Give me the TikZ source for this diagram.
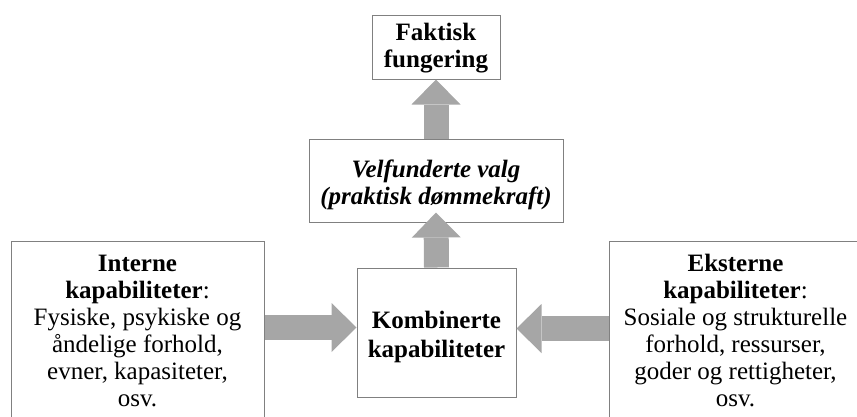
\documentclass[tikz,border=0pt]{standalone}
\usepackage{fontspec}
\setmainfont{Liberation Serif}
\usetikzlibrary{arrows.meta,calc}

\definecolor{arrowgray}{RGB}{166,166,166}
\definecolor{framegray}{RGB}{128,128,128}

\tikzset{
  box/.style={draw=framegray, line width=1pt, fill=white, inner sep=0pt},
  txt/.style={align=center, inner sep=0pt, font=\fontsize{25}{27}\selectfont},
  blockarrow/.style={draw=arrowgray, line width=25pt,
    -{Triangle[width=49pt, length=25pt, line width=0pt]}}
}

\begin{document}
\begin{tikzpicture}[x=1pt, y=-1pt]
\useasboundingbox (0,0) rectangle (857,416);

% frames
\node[box, minimum width=128pt, minimum height=64pt]  (fakt) at (436,47)    {};
\node[box, minimum width=254pt, minimum height=83pt]  (velf) at (436,180.5) {};
\node[box, minimum width=159pt, minimum height=129pt] (komb) at (436.5,332.5) {};
\node[box, minimum width=253pt, minimum height=204pt] (intl) at (137.5,343) {};
\node[box, minimum width=253pt, minimum height=204pt] (extl) at (735.5,343) {};

% block arrows between the frames
\draw[blockarrow] (velf.north) -- (fakt.south);
\draw[blockarrow] (komb.north) -- ([yshift=10pt]velf.south);
\draw[blockarrow] ([yshift=5pt]intl.east |- komb.west) -- ([yshift=5pt]komb.west);
\draw[blockarrow] ([yshift=4pt]extl.west |- komb.east) -- ([yshift=4pt]komb.east);

% labels
\node[txt] (faktT) at (436,48.5) {\textbf{Faktisk}\\\textbf{fungering}};
\node[txt] (velfT) at (436,185)  {\textbf{\itshape Velfunderte valg}\\\textbf{\itshape (praktisk dømmekraft)}};
\node[txt, font=\fontsize{25}{29}\selectfont] (kombT) at (436.5,336.5) {\textbf{Kombinerte}\\\textbf{kapabiliteter}};
\node[txt] (intlT) at (137.5,330.5) {\textbf{Interne}\\
  \textbf{kapabiliteter}:\\
  Fysiske, psykiske og\\
  åndelige forhold,\\
  evner, kapasiteter,\\
  osv.};
\node[txt] (extlT) at (735.5,330.5) {\textbf{Eksterne}\\
  \textbf{kapabiliteter}:\\
  Sosiale og strukturelle\\
  forhold, ressurser,\\
  goder og rettigheter,\\
  osv.};
\end{tikzpicture}
\end{document}
